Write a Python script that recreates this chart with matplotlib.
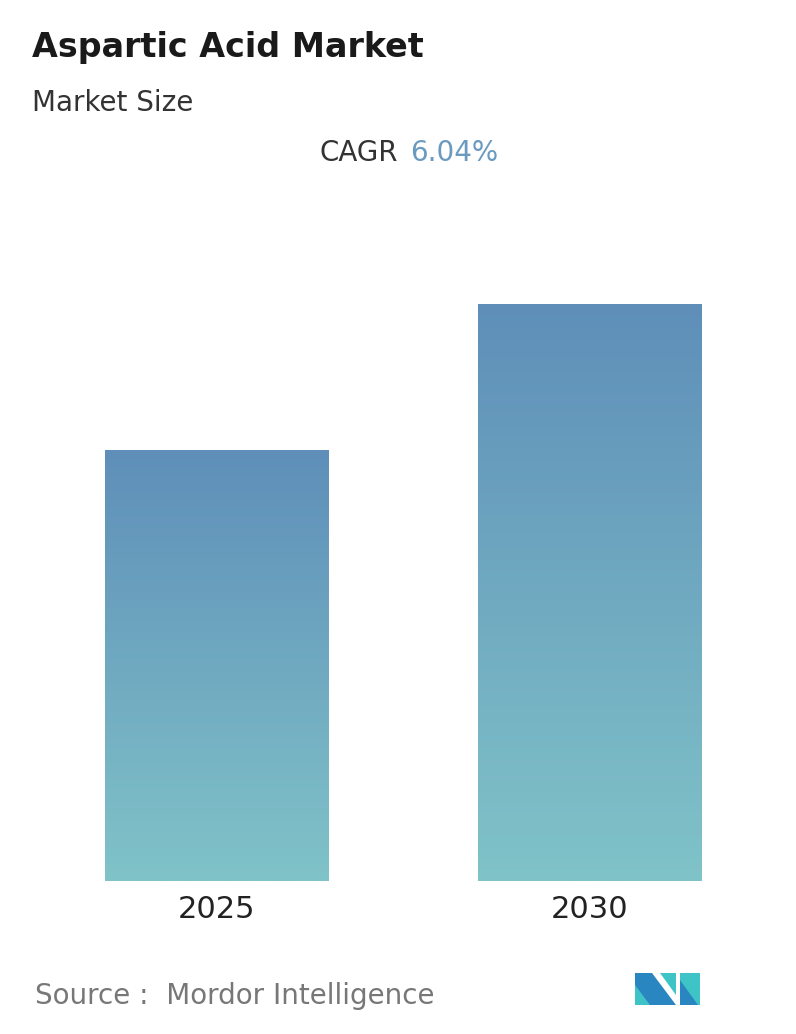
import numpy as np
import matplotlib.pyplot as plt
from matplotlib.patches import Polygon

years = ["2025", "2030"]
values = [100.0, 134.1]
cagr = "6.04%"

W, H = 796, 1034
fig = plt.figure(figsize=(W / 100, H / 100), dpi=100)
fig.patch.set_facecolor("white")

def fy(py):
    return 1 - py / H

ax = fig.add_axes([30 / W, fy(881), 746 / W, (881 - 304) / H])
ax.set_xlim(-0.5, 1.5)
ax.set_ylim(0, max(values))
ax.axis("off")

top_c = np.array([0x5f, 0x8f, 0xb9]) / 255
bot_c = np.array([0x80, 0xc3, 0xc8]) / 255
bw = 0.598
for i, v in enumerate(values):
    t = np.linspace(0, 1, 256)[:, None]
    grad = top_c[None, :] * (1 - t) + bot_c[None, :] * t
    grad = grad[:, None, :]
    ax.imshow(grad, extent=[i - bw / 2, i + bw / 2, 0, v], aspect="auto", zorder=2)
    ax.text(i, -0.025 * max(values), years[i], ha="center", va="top",
            fontsize=22, color="#222222")
ax.set_xlim(-0.5, 1.5)
ax.set_ylim(0, max(values))

fig.text(32 / W, fy(47), "Aspartic Acid Market", fontsize=24, fontweight="bold",
         color="#1a1a1a", va="center")
fig.text(32 / W, fy(103), "Market Size", fontsize=20, color="#333333", va="center")
fig.text(398 / W, fy(153), "CAGR", fontsize=20, color="#333333", va="center", ha="right")
fig.text(410 / W, fy(153), cagr, fontsize=20, color="#6a9ac0", va="center", ha="left")
fig.text(35 / W, fy(996), "Source :  Mordor Intelligence", fontsize=20, color="#777777", va="center")

# logo
def poly(pts, c):
    fig.patches.append(Polygon([(x / W, fy(y)) for x, y in pts], closed=True,
                               transform=fig.transFigure, facecolor=c, edgecolor="none"))
poly([(635, 973), (652, 973), (676, 1005), (635, 1005)], "#2a86c0")
poly([(635, 985), (650, 1005), (635, 1005)], "#3ec3c7")
poly([(660, 973), (676, 973), (676, 995)], "#3ec3c7")
poly([(680, 973), (700, 973), (700, 1005), (680, 1005)], "#3ec3c7")
poly([(680, 980), (698, 1005), (680, 1005)], "#2a86c0")

fig.savefig("out.png", dpi=100)
